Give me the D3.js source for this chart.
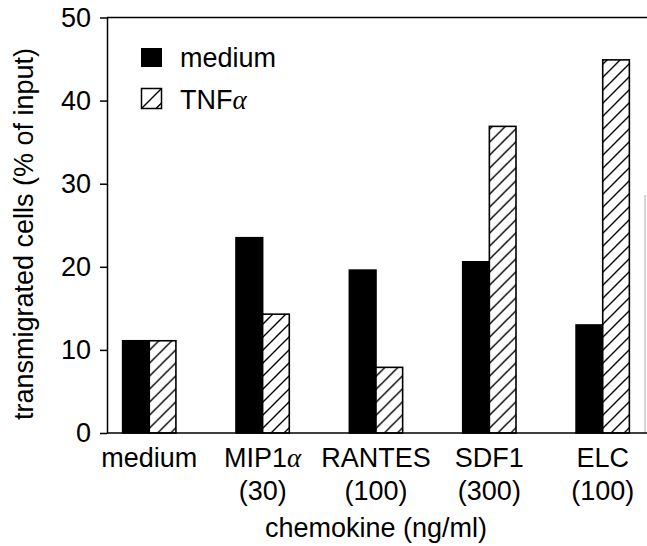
<!DOCTYPE html>
<html>
<head>
<meta charset="utf-8">
<script src="https://cdn.jsdelivr.net/npm/d3@7"></script>
<style>
  body { margin: 0; background: #fff; }
  text { font-family: "Liberation Sans", Arial, sans-serif; fill: #000; }
</style>
</head>
<body>
<div id="chart"></div>
<script>
const width = 647,
  height = 546,
  margin = { top: 17, bottom: 113, left: 107, right: 2 };

const categories = ["medium", "MIP1\u03b1", "RANTES", "SDF1", "ELC"];
const doses = ["", "(30)", "(100)", "(300)", "(100)"];
const series = ["medium", "TNF\u03b1"];
const mediumValues = [11.1, 23.5, 19.6, 20.6, 13.0];
const tnfValues = [11.1, 14.3, 7.9, 36.9, 44.9];
const yTicks = [0, 10, 20, 30, 40, 50];

const data = categories.map((c, i) => ({
  category: c,
  dose: doses[i],
  values: [
    { key: series[0], value: mediumValues[i] },
    { key: series[1], value: tnfValues[i] },
  ],
}));

const svg = d3.select("#chart")
  .append("svg")
  .attr("width", width)
  .attr("height", height);

// hatch pattern
const defs = svg.append("defs");
const pat = defs.append("pattern")
  .attr("id", "hatch")
  .attr("patternUnits", "userSpaceOnUse")
  .attr("width", 13)
  .attr("height", 13);
pat.append("rect").attr("width", 13).attr("height", 13).attr("fill", "#fff");
pat.append("path")
  .attr("d", "M-3,3 L3,-3 M0,13 L13,0 M10,16 L16,10")
  .attr("stroke", "#000")
  .attr("stroke-width", 1.4);

const plotBottom = height - margin.bottom;

const y = d3.scaleLinear()
  .domain([0, 50])
  .range([plotBottom, margin.top + 0.5]);

const x0 = d3.scaleBand()
  .domain(categories)
  .range([92.6, 659.4])
  .paddingInner(0.53)
  .paddingOuter(0.265);

const x1 = d3.scaleBand()
  .domain(series)
  .range([0, x0.bandwidth()]);

// label text with the greek alpha drawn in a serif italic, like the original
function greekText(sel, str) {
  const parts = str.split("\u03b1");
  sel.append("tspan").text(parts[0]);
  if (parts.length > 1) {
    sel.append("tspan")
      .style("font-family", "'Liberation Serif', serif")
      .style("font-style", "italic")
      .text("\u03b1");
    if (parts[1]) sel.append("tspan").text(parts[1]);
  }
}

// frame: top and faint right edge
svg.append("line")
  .attr("x1", margin.left).attr("x2", width)
  .attr("y1", y(50)).attr("y2", y(50))
  .attr("stroke", "#000").attr("stroke-width", 1.5);
svg.append("line")
  .attr("x1", 645).attr("x2", 645)
  .attr("y1", 195).attr("y2", plotBottom)
  .attr("stroke", "#aaa").attr("stroke-width", 1);

// bars
const group = svg.selectAll("g.group")
  .data(data)
  .join("g")
  .attr("class", "group")
  .attr("transform", d => `translate(${x0(d.category)},0)`);

group.selectAll("rect")
  .data(d => d.values)
  .join("rect")
  .attr("x", d => x1(d.key))
  .attr("y", d => y(d.value))
  .attr("width", x1.bandwidth())
  .attr("height", d => plotBottom - y(d.value))
  .attr("fill", d => d.key === series[0] ? "#000" : "url(#hatch)")
  .attr("stroke", "#000")
  .attr("stroke-width", 1.6);

// y axis
const yAxis = svg.append("g")
  .attr("transform", `translate(${margin.left},0)`)
  .call(d3.axisLeft(y).tickValues(yTicks).tickSize(7).tickSizeOuter(0).tickPadding(9));
yAxis.select(".domain").attr("stroke-width", 1.5);
yAxis.selectAll(".tick line").attr("stroke-width", 1.5);
yAxis.selectAll(".tick text")
  .style("font-size", "27px")
  .attr("font-family", null);

// x axis line
svg.append("line")
  .attr("x1", margin.left).attr("x2", width)
  .attr("y1", plotBottom).attr("y2", plotBottom)
  .attr("stroke", "#000").attr("stroke-width", 1.5);

// x labels
const xl = svg.selectAll("g.xlabel")
  .data(data)
  .join("g")
  .attr("class", "xlabel")
  .attr("transform", d => `translate(${x0(d.category) + x0.bandwidth() / 2},0)`);
xl.append("text")
  .attr("y", 467)
  .attr("text-anchor", "middle")
  .style("font-size", "27px")
  .each(function (d) { greekText(d3.select(this), d.category); });
xl.append("text")
  .attr("y", 500)
  .attr("text-anchor", "middle")
  .style("font-size", "27px")
  .text(d => d.dose);

// axis titles
svg.append("text")
  .attr("x", 376)
  .attr("y", 537)
  .attr("text-anchor", "middle")
  .style("font-size", "27px")
  .text("chemokine (ng/ml)");

svg.append("text")
  .attr("transform", "translate(32.5,234) rotate(-90)")
  .attr("text-anchor", "middle")
  .style("font-size", "27px")
  .text("transmigrated cells (% of input)");

// legend
const legend = svg.append("g");
legend.append("rect")
  .attr("x", 141).attr("y", 48).attr("width", 21).attr("height", 19)
  .attr("fill", "#000");
legend.append("rect")
  .attr("x", 141.5).attr("y", 88.5).attr("width", 20).attr("height", 20)
  .attr("fill", "#fff").attr("stroke", "#000").attr("stroke-width", 1.5);
legend.append("path")
  .attr("d", "M141.5,108.5 L161.5,88.5 M156,108.5 L161.5,103")
  .attr("stroke", "#000").attr("stroke-width", 1.4);
legend.selectAll("text.leg")
  .data(series)
  .join("text")
  .attr("class", "leg")
  .attr("x", 180)
  .attr("y", (d, i) => 67 + i * 42)
  .style("font-size", "27px")
  .each(function (d) { greekText(d3.select(this), d); });
</script>
</body>
</html>
